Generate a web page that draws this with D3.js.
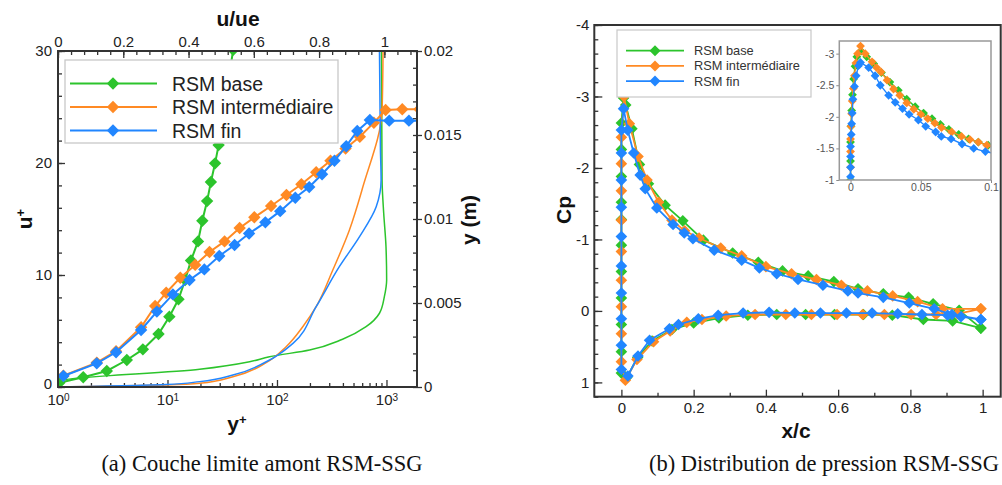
<!DOCTYPE html>
<html><head><meta charset="utf-8">
<script src="https://cdn.jsdelivr.net/npm/d3@7"></script>
<style>
body{margin:0;background:#fff;}
svg{display:block;}
</style></head><body>
<svg id="chart" width="1002" height="485"></svg>
<script>
// ---------------- data ----------------
const seriesNames = ["RSM base", "RSM intermédiaire", "RSM fin"];
const seriesColors = ["#2cc42c", "#ff8a24", "#2186ff"];

// Panel (a): u+ vs y+ (log)
const yPlusBase = [1.03, 1.70, 2.79, 4.25, 5.96, 8.28, 10.4, 12.6, 14.5, 16.4, 19.0, 20.8, 23.0, 24.9, 27.2, 29.3, 31.0, 32.9, 35.1, 37.4, 39.8, 42.5];
const uPlusBase = [0.38, 0.87, 1.43, 2.41, 3.36, 4.73, 6.28, 7.83, 9.55, 11.3, 13.0, 14.85, 16.6, 18.3, 19.97, 21.6, 23.3, 25.0, 26.7, 28.4, 30.1, 31.8];
const yPlusInter = [1.12, 2.26, 3.39, 5.74, 7.71, 9.73, 13.1, 17.9, 24.2, 33.2, 45.6, 62.1, 88.3, 122, 167, 228, 308, 423, 571, 767, 982, 1394, 2000];
const uPlusInter = [1.0, 2.18, 3.2, 5.33, 7.23, 8.42, 9.76, 10.9, 12.05, 13.0, 14.2, 15.15, 16.16, 17.14, 18.1, 19.17, 20.2, 21.3, 22.35, 23.6, 24.73, 24.8, 24.8];
const yPlusFin = [1.12, 2.26, 3.39, 5.74, 8.0, 11.2, 15.9, 21.7, 29.7, 41.0, 55.6, 78.3, 107, 147, 197, 258, 335, 429, 541, 705, 1060, 1603, 2400];
const uPlusFin = [0.98, 2.11, 3.1, 5.09, 6.73, 8.27, 9.55, 10.5, 11.7, 12.68, 13.7, 14.7, 15.7, 16.9, 17.85, 19.0, 20.2, 21.5, 22.86, 23.84, 23.78, 23.78, 23.78];

// Panel (a): u/ue vs y (m)
const uueBase = [0, 0.006, 0.434, 0.587, 0.648, 0.771, 0.872, 0.944, 0.985, 1.0, 1.007, 1.005, 0.998, 0.993, 0.991];
const yBase = [0, 0.00036, 0.00105, 0.0015, 0.0018, 0.0022, 0.00284, 0.00359, 0.00439, 0.00538, 0.00637, 0.00835, 0.01034, 0.0123, 0.02];
const uueInter = [0, 0.332, 0.434, 0.536, 0.638, 0.699, 0.75, 0.791, 0.842, 0.893, 0.934, 0.993, 0.996];
const yInter = [0, 0.00012, 0.00022, 0.00061, 0.00145, 0.0024, 0.00359, 0.00478, 0.00696, 0.00935, 0.0119, 0.0165, 0.02];
const uueFin = [0, 0.332, 0.434, 0.536, 0.638, 0.72, 0.791, 0.862, 0.924, 0.975, 0.99, 0.988, 0.985];
const yFin = [0, 0.00015, 0.00032, 0.00071, 0.0015, 0.0026, 0.00478, 0.00716, 0.00895, 0.01073, 0.0123, 0.0141, 0.02];

// Panel (a) tick labels
const yPlusTicks = [1, 10, 100, 1000];
const uPlusTicks = [0, 10, 20, 30];
const uueTicks = [0, 0.2, 0.4, 0.6, 0.8, 1];
const uueTickLabels = ["0", "0.2", "0.4", "0.6", "0.8", "1"];
const yMTicks = [0, 0.005, 0.01, 0.015, 0.02];
const yMTickLabels = ["0", "0.005", "0.01", "0.015", "0.02"];

// Panel (b): Cp vs x/c  (upper TE -> LE -> lower TE)
const xcBase = [0.995, 0.935, 0.863, 0.795, 0.725, 0.655, 0.588, 0.517, 0.446, 0.379, 0.308, 0.227, 0.170, 0.121, 0.075, 0.05, 0.029, 0.012, 0.006,
  0, 0, 0, 0, 0, 0, 0, 0, 0, 0, 0,
  0.015, 0.045, 0.085, 0.14, 0.2, 0.27, 0.35, 0.43, 0.51, 0.59, 0.67, 0.75, 0.836, 0.917, 0.995];
const cpBase = [0.24, -0.01, -0.10, -0.19, -0.24, -0.31, -0.41, -0.49, -0.56, -0.68, -0.81, -0.99, -1.26, -1.48, -1.78, -2.05, -2.55, -2.88, -2.98,
  -2.63, -2.26, -1.88, -1.52, -1.28, -0.92, -0.55, -0.18, 0.19, 0.57, 0.87,
  0.93, 0.65, 0.42, 0.26, 0.17, 0.1, 0.06, 0.05, 0.05, 0.05, 0.05, 0.06, 0.12, 0.14, 0.24];
const xcInter = [0.995, 0.889, 0.82, 0.751, 0.681, 0.609, 0.54, 0.471, 0.40, 0.333, 0.275, 0.215, 0.175, 0.14, 0.103, 0.071, 0.046, 0.022, 0.007,
  0, 0, 0, 0, 0, 0, 0, 0, 0,
  0.011, 0.043, 0.089, 0.135, 0.181, 0.223, 0.29, 0.37, 0.455, 0.526, 0.597, 0.668, 0.728, 0.802, 0.871, 0.93, 0.995];
const cpInter = [-0.03, -0.03, -0.13, -0.21, -0.28, -0.36, -0.44, -0.52, -0.62, -0.77, -0.88, -1.02, -1.12, -1.27, -1.52, -1.83, -2.16, -2.62, -3.0,
  -2.43, -2.06, -1.68, -1.27, -0.83, -0.43, -0.06, 0.32, 0.71,
  0.97, 0.68, 0.43, 0.28, 0.16, 0.12, 0.07, 0.05, 0.05, 0.05, 0.05, 0.05, 0.05, 0.05, 0.05, 0.04, -0.03];
const xcFin = [0.995, 0.915, 0.866, 0.797, 0.725, 0.655, 0.627, 0.558, 0.489, 0.43, 0.382, 0.333, 0.257, 0.198, 0.174, 0.143, 0.098, 0.066, 0.052, 0.034, 0.0175, 0.006,
  0, 0, 0, 0, 0, 0, 0, 0, 0, 0,
  0.018, 0.046, 0.078, 0.133, 0.158, 0.213, 0.268, 0.337, 0.409, 0.48, 0.551, 0.623, 0.694, 0.765, 0.832, 0.903, 0.94, 0.995];
const cpFin = [0.12, 0.05, -0.03, -0.11, -0.19, -0.25, -0.28, -0.36, -0.44, -0.52, -0.60, -0.71, -0.85, -1.01, -1.09, -1.21, -1.44, -1.71, -1.90, -2.21, -2.53, -2.83,
  -2.53, -2.21, -1.83, -1.45, -1.04, -0.63, -0.25, 0.11, 0.48, 0.82,
  0.91, 0.63, 0.41, 0.25, 0.19, 0.11, 0.06, 0.03, 0.02, 0.03, 0.03, 0.03, 0.03, 0.04, 0.05, 0.06, 0.08, 0.12];

// Panel (b) inset (leading edge zoom)
const xiBase = [0, 0, 0, 0.0003, 0.0008, 0.0014, 0.0022, 0.0032, 0.0045, 0.0075, 0.0115, 0.0165, 0.022, 0.028, 0.034, 0.04, 0.046, 0.052, 0.058, 0.064, 0.07, 0.077, 0.084, 0.091, 0.098, 0.104];
const cpiBase = [-1.0, -1.3, -1.6, -1.85, -2.1, -2.35, -2.6, -2.8, -2.95, -3.04, -2.95, -2.84, -2.7, -2.55, -2.42, -2.28, -2.16, -2.06, -1.97, -1.88, -1.8, -1.72, -1.65, -1.6, -1.55, -1.5];
const xiInter = [0, 0, 0, 0, 0.0003, 0.0008, 0.0012, 0.002, 0.0028, 0.0038, 0.005, 0.0071, 0.0105, 0.0153, 0.0185, 0.0217, 0.026, 0.0306, 0.035, 0.04, 0.045, 0.05, 0.055, 0.06, 0.0648, 0.072, 0.079, 0.085, 0.091, 0.097, 0.103];
const cpiInter = [-0.95, -1.2, -1.45, -1.65, -1.85, -2.05, -2.25, -2.45, -2.65, -2.85, -3.0, -3.12, -3.0, -2.87, -2.78, -2.71, -2.58, -2.44, -2.34, -2.22, -2.12, -2.04, -1.97, -1.9, -1.83, -1.76, -1.69, -1.64, -1.6, -1.55, -1.51];
const xiFin = [0, 0, 0, 0, 0, 0.0005, 0.0008, 0.0012, 0.0017, 0.0028, 0.004, 0.0057, 0.0071, 0.0129, 0.0175, 0.0212, 0.0271, 0.0318, 0.037, 0.0417, 0.0483, 0.0535, 0.0606, 0.0646, 0.0716, 0.0794, 0.0877, 0.096, 0.104];
const cpiFin = [-0.9, -1.05, -1.2, -1.37, -1.53, -1.72, -1.89, -2.06, -2.28, -2.48, -2.65, -2.81, -2.86, -2.78, -2.65, -2.5, -2.34, -2.23, -2.13, -2.04, -1.95, -1.85, -1.76, -1.69, -1.65, -1.57, -1.5, -1.45, -1.41];

// Panel (b) tick labels
const xcTicks = [0, 0.2, 0.4, 0.6, 0.8, 1];
const xcTickLabels = ["0", "0.2", "0.4", "0.6", "0.8", "1"];
const cpTicks = [-4, -3, -2, -1, 0, 1];
const cpTickLabels = ["-4", "-3", "-2", "-1", "0", "1"];
const xiTicks = [0, 0.05, 0.1];
const xiTickLabels = ["0", "0.05", "0.1"];
const cpiTicks = [-3, -2.5, -2, -1.5, -1];
const cpiTickLabels = ["-3", "-2.5", "-2", "-1.5", "-1"];

const captions = ["(a) Couche limite amont RSM-SSG", "(b) Distribution de pression RSM-SSG"];

// ---------------- drawing ----------------
const FONT = '"Liberation Sans", Arial, Helvetica, sans-serif';
const svg = d3.select("#chart");
const zip = (a, b) => a.map((v, i) => [v, b[i]]);
const diamond = r => `M0,${-r}L${r},0L0,${r}L${-r},0Z`;

function styleAxis(g, fs, col) {
  g.attr("font-family", FONT).attr("font-size", fs);
  g.select(".domain").remove();
  g.selectAll("line").attr("stroke", "#333").attr("stroke-width", 1.3);
  g.selectAll("text").attr("fill", col || "#222");
}
function ticksFromTo(a, b, step) { const out = []; for (let v = a; v <= b + 1e-9; v += step) out.push(+v.toFixed(6)); return out; }

// ===== Panel (a) =====
const A = {l: 58, r: 417, t: 51, b: 387};
const xLog = d3.scaleLog().domain([1, 1900]).range([A.l, A.r]);
const yU = d3.scaleLinear().domain([0, 30]).range([A.b, A.t]);
const xTop = d3.scaleLinear().domain([0, 1.1]).range([A.l, A.r]);
const yR = d3.scaleLinear().domain([0, 0.02]).range([A.b, A.t]);

const defs = svg.append("defs");
defs.append("clipPath").attr("id", "clipA").append("rect").attr("x", A.l).attr("y", A.t).attr("width", A.r - A.l).attr("height", A.b - A.t);

// minor ticks
const logMinor = [];
[1, 10, 100, 1000].forEach(d => { for (let k = 2; k <= 9; k++) if (d * k <= 1900) logMinor.push(d * k); });
svg.append("g").attr("transform", `translate(0,${A.b})`).call(d3.axisBottom(xLog).tickValues(logMinor).tickSize(-4).tickFormat("")).call(g => styleAxis(g, 15));
svg.append("g").attr("transform", `translate(${A.l},0)`).call(d3.axisLeft(yU).tickValues(ticksFromTo(0, 30, 2)).tickSize(-4).tickFormat("")).call(g => styleAxis(g, 15));
svg.append("g").attr("transform", `translate(0,${A.t})`).call(d3.axisTop(xTop).tickValues(ticksFromTo(0, 1.08, 0.04)).tickSize(-4).tickFormat("")).call(g => styleAxis(g, 15));
svg.append("g").attr("transform", `translate(${A.r},0)`).call(d3.axisRight(yR).tickValues(ticksFromTo(0, 0.02, 0.001)).tickSize(-4).tickFormat("")).call(g => styleAxis(g, 15));

// major axes
svg.append("g").attr("transform", `translate(0,${A.b})`)
  .call(d3.axisBottom(xLog).tickValues(yPlusTicks).tickSize(-7).tickPadding(7).tickFormat(d => "10"))
  .call(g => styleAxis(g, 15))
  .call(g => g.selectAll("text").each(function(d) {
    const t = d3.select(this); t.text(null);
    t.append("tspan").text("10");
    t.append("tspan").attr("dy", "-0.4em").attr("font-size", 10).text(Math.round(Math.log10(d)));
  }));
svg.append("g").attr("transform", `translate(${A.l},0)`)
  .call(d3.axisLeft(yU).tickValues(uPlusTicks).tickSize(-7).tickPadding(6).tickFormat(d3.format("d")))
  .call(g => styleAxis(g, 15))
  .call(g => g.selectAll("text").filter(d => d === 0).attr("dy", "0.1em"));
svg.append("g").attr("transform", `translate(0,${A.t})`)
  .call(d3.axisTop(xTop).tickValues(uueTicks).tickSize(-7).tickPadding(4).tickFormat((d, i) => uueTickLabels[i]))
  .call(g => styleAxis(g, 15));
svg.append("g").attr("transform", `translate(${A.r},0)`)
  .call(d3.axisRight(yR).tickValues(yMTicks).tickSize(5).tickPadding(2).tickFormat((d, i) => yMTickLabels[i]))
  .call(g => styleAxis(g, 15));

// curves panel a
const plotA = svg.append("g").attr("clip-path", "url(#clipA)");
const lineLog = d3.line().x(d => xLog(d[0])).y(d => yU(d[1]));
const lineLin = d3.line().x(d => xTop(d[0])).y(d => yR(d[1])).curve(d3.curveMonotoneY);
const thinSets = [zip(uueBase, yBase), zip(uueInter, yInter), zip(uueFin, yFin)];
thinSets.forEach((pts, i) => {
  plotA.append("path").datum(pts).attr("d", lineLin).attr("fill", "none").attr("stroke", seriesColors[i]).attr("stroke-width", 1.5);
});
const markSetsA = [zip(yPlusBase, uPlusBase), zip(yPlusInter, uPlusInter), zip(yPlusFin, uPlusFin)];
markSetsA.forEach((pts, i) => {
  plotA.append("path").datum(pts).attr("d", lineLog).attr("fill", "none").attr("stroke", seriesColors[i]).attr("stroke-width", 2);
  plotA.selectAll(null).data(pts).enter().append("path")
    .attr("transform", d => `translate(${xLog(d[0])},${yU(d[1])})`)
    .attr("d", diamond(6.2)).attr("fill", seriesColors[i]);
});

// frame a
svg.append("rect").attr("x", A.l).attr("y", A.t).attr("width", A.r - A.l).attr("height", A.b - A.t)
  .attr("fill", "none").attr("stroke", "#333").attr("stroke-width", 2);

// legend a
const legA = svg.append("g").attr("font-family", FONT);
legA.append("rect").attr("x", 65).attr("y", 60).attr("width", 273).attr("height", 83).attr("fill", "#fff").attr("stroke", "#c8c8c8").attr("stroke-width", 1.3);
seriesNames.forEach((n, i) => {
  const y = 83.5 + i * 23.5;
  legA.append("line").attr("x1", 70).attr("x2", 157).attr("y1", y).attr("y2", y).attr("stroke", seriesColors[i]).attr("stroke-width", 2);
  legA.append("path").attr("transform", `translate(113,${y})`).attr("d", diamond(6.2)).attr("fill", seriesColors[i]);
  legA.append("text").attr("x", 172).attr("y", y + 7).attr("font-size", 19.5).attr("fill", "#222").text(n);
});

// titles a
const tA = svg.append("g").attr("font-family", FONT).attr("font-weight", "bold").attr("fill", "#111");
tA.append("text").attr("x", 238).attr("y", 26).attr("text-anchor", "middle").attr("font-size", 21).text("u/ue");
const up = tA.append("text").attr("transform", "translate(32,219) rotate(-90)").attr("text-anchor", "middle").attr("font-size", 21);
up.append("tspan").text("u"); up.append("tspan").attr("dy", "-0.55em").attr("font-size", 13).text("+");
tA.append("text").attr("transform", "translate(476,220) rotate(-90)").attr("text-anchor", "middle").attr("font-size", 21).text("y (m)");
const yp = tA.append("text").attr("x", 237).attr("y", 431).attr("text-anchor", "middle").attr("font-size", 21);
yp.append("tspan").text("y"); yp.append("tspan").attr("dy", "-0.55em").attr("font-size", 13).text("+");

// ===== Panel (b) =====
const B = {l: 594.3, r: 1000.7, t: 25, b: 396.7};
const xC = d3.scaleLinear().domain([-0.075, 1.05]).range([B.l, B.r]);
const yC = d3.scaleLinear().domain([-4, 1.2]).range([B.t, B.b]);
defs.append("clipPath").attr("id", "clipB").append("rect").attr("x", B.l).attr("y", B.t).attr("width", B.r - B.l).attr("height", B.b - B.t);

svg.append("g").attr("transform", `translate(0,${B.b})`).call(d3.axisBottom(xC).tickValues(ticksFromTo(0.1, 0.9, 0.2)).tickSize(-4).tickFormat("")).call(g => styleAxis(g, 15));
svg.append("g").attr("transform", `translate(${B.l},0)`).call(d3.axisLeft(yC).tickValues(ticksFromTo(-4, 1.2, 0.2)).tickSize(-4).tickFormat("")).call(g => styleAxis(g, 15));
svg.append("g").attr("transform", `translate(0,${B.b})`)
  .call(d3.axisBottom(xC).tickValues(xcTicks).tickSize(-7).tickPadding(6).tickFormat((d, i) => xcTickLabels[i]))
  .call(g => styleAxis(g, 15));
svg.append("g").attr("transform", `translate(${B.l},0)`)
  .call(d3.axisLeft(yC).tickValues(cpTicks).tickSize(-8).tickPadding(5).tickFormat((d, i) => cpTickLabels[i]))
  .call(g => styleAxis(g, 15));

const plotB = svg.append("g").attr("clip-path", "url(#clipB)");
const lineC = d3.line().x(d => xC(d[0])).y(d => yC(d[1]));
const setsB = [zip(xcBase, cpBase), zip(xcInter, cpInter), zip(xcFin, cpFin)];
setsB.forEach((pts, i) => {
  plotB.append("path").datum(pts).attr("d", lineC).attr("fill", "none").attr("stroke", seriesColors[i]).attr("stroke-width", 1.8);
  plotB.selectAll(null).data(pts).enter().append("path")
    .attr("transform", d => `translate(${xC(d[0])},${yC(d[1])})`)
    .attr("d", diamond(5.8)).attr("fill", seriesColors[i]);
});
svg.append("rect").attr("x", B.l).attr("y", B.t).attr("width", B.r - B.l).attr("height", B.b - B.t)
  .attr("fill", "none").attr("stroke", "#333").attr("stroke-width", 2);

// legend b
const legB = svg.append("g").attr("font-family", FONT);
legB.append("rect").attr("x", 617).attr("y", 30).attr("width", 194).attr("height", 67).attr("fill", "#fff").attr("stroke", "#c8c8c8").attr("stroke-width", 1.2);
seriesNames.forEach((n, i) => {
  const y = 50.7 + i * 15.2;
  legB.append("line").attr("x1", 626).attr("x2", 684).attr("y1", y).attr("y2", y).attr("stroke", seriesColors[i]).attr("stroke-width", 1.8);
  legB.append("path").attr("transform", `translate(655,${y})`).attr("d", diamond(5.5)).attr("fill", seriesColors[i]);
  legB.append("text").attr("x", 694).attr("y", y + 4.5).attr("font-size", 12.8).attr("fill", "#333").text(n);
});

// inset
const I = {l: 839.3, r: 991, t: 41, b: 180};
const xi = d3.scaleLinear().domain([-0.008, 0.1]).range([I.l, I.r]);
const yi = d3.scaleLinear().domain([-1, -3.2]).range([I.b, I.t]);
defs.append("clipPath").attr("id", "clipI").append("rect").attr("x", I.l).attr("y", I.t).attr("width", I.r - I.l).attr("height", I.b - I.t);
svg.append("rect").attr("x", I.l).attr("y", I.t).attr("width", I.r - I.l).attr("height", I.b - I.t).attr("fill", "#fff");
const plotI = svg.append("g").attr("clip-path", "url(#clipI)");
const lineI = d3.line().x(d => xi(d[0])).y(d => yi(d[1]));
const setsI = [zip(xiBase, cpiBase), zip(xiInter, cpiInter), zip(xiFin, cpiFin)];
setsI.forEach((pts, i) => {
  plotI.append("path").datum(pts).attr("d", lineI).attr("fill", "none").attr("stroke", seriesColors[i]).attr("stroke-width", 1.4);
  plotI.selectAll(null).data(pts).enter().append("path")
    .attr("transform", d => `translate(${xi(d[0])},${yi(d[1])})`)
    .attr("d", diamond(4.4)).attr("fill", seriesColors[i]);
});
svg.append("g").attr("transform", `translate(${I.l},0)`)
  .call(d3.axisLeft(yi).tickValues(cpiTicks).tickSize(3).tickPadding(2).tickFormat((d, i) => cpiTickLabels[i]))
  .call(g => styleAxis(g, 10.5, "#555")).call(g => g.selectAll("line").attr("stroke", "#888").attr("stroke-width", 1));
svg.append("g").attr("transform", `translate(0,${I.b})`)
  .call(d3.axisBottom(xi).tickValues(xiTicks).tickSize(3).tickPadding(1).tickFormat((d, i) => xiTickLabels[i]))
  .call(g => styleAxis(g, 10.5, "#555")).call(g => g.selectAll("line").attr("stroke", "#888").attr("stroke-width", 1));
svg.append("rect").attr("x", I.l).attr("y", I.t).attr("width", I.r - I.l).attr("height", I.b - I.t)
  .attr("fill", "none").attr("stroke", "#999").attr("stroke-width", 1.5);

// titles b
const tB = svg.append("g").attr("font-family", FONT).attr("font-weight", "bold").attr("fill", "#111");
tB.append("text").attr("transform", "translate(571,210) rotate(-90)").attr("text-anchor", "middle").attr("font-size", 21).text("Cp");
tB.append("text").attr("x", 796).attr("y", 438).attr("text-anchor", "middle").attr("font-size", 21).text("x/c");

// captions
const cap = svg.append("g").attr("font-family", '"Liberation Serif", "DejaVu Serif", serif').attr("font-size", 22.5).attr("fill", "#111");
cap.append("text").attr("x", 262).attr("y", 471).attr("text-anchor", "middle").text(captions[0]);
cap.append("text").attr("x", 999).attr("y", 471).attr("text-anchor", "end").text(captions[1]);
</script></body></html>
